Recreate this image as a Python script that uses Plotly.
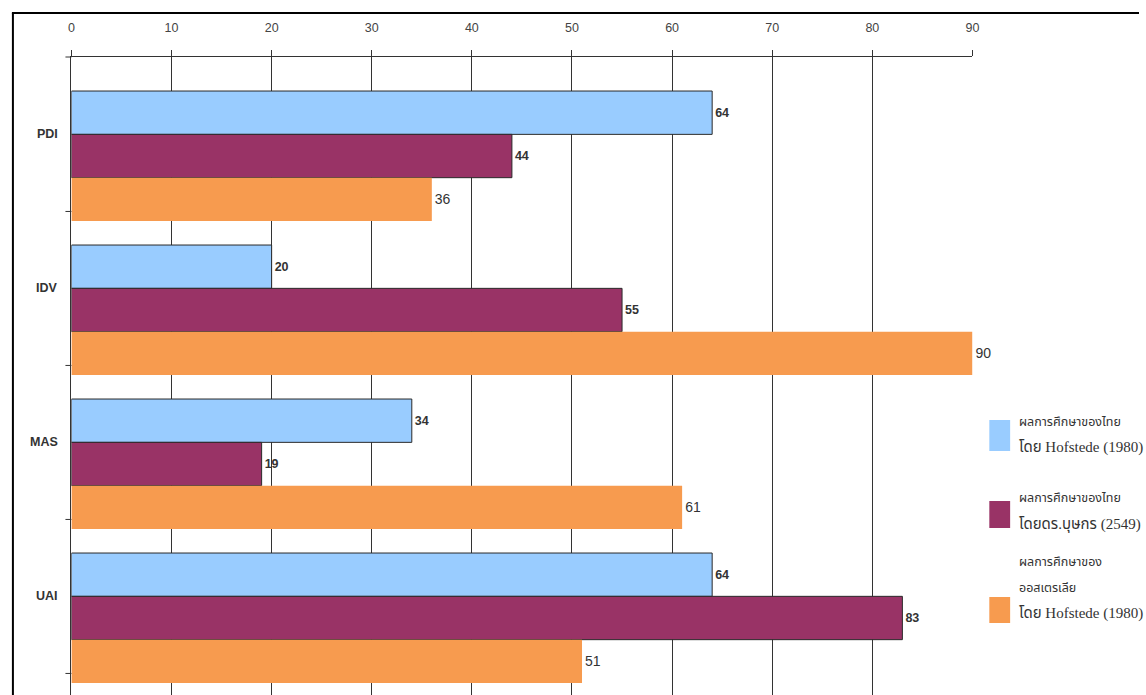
import plotly.graph_objects as go

categories = ["PDI", "IDV", "MAS", "UAI"]
thai_hofstede = [64, 20, 34, 64]
thai_boonyakorn = [44, 55, 19, 83]
australia_hofstede = [36, 90, 61, 51]
x_ticks = list(range(0, 100, 10))
legend_lines = [
    ["ผลการศึกษาของไทย", "โดย Hofstede (1980)"],
    ["ผลการศึกษาของไทย", "โดยดร.บุษกร (2549)"],
    ["ผลการศึกษาของ", "ออสเตรเลีย", "โดย Hofstede (1980)"],
]
colors = ["#99CCFF", "#993366", "#F79B4F"]

W, H = 1146, 695
def xp(px):
    return px / W
def yp(py):
    return 1 - py / H

FONT = "Liberation Sans, Arial, sans-serif"
LEG = "Liberation Serif, Noto Sans Thai, Loma, Garuda, serif"

fig = go.Figure()
series = [thai_hofstede, thai_boonyakorn, australia_hofstede]
for i, vals in enumerate(series):
    is_orange = i == 2
    fig.add_trace(go.Bar(
        y=categories, x=vals, orientation="h",
        name=" ".join(legend_lines[i]),
        marker=dict(color=colors[i],
                    line=dict(color="#2a2a2a" if not is_orange else colors[i],
                              width=1 if not is_orange else 0)),
        text=[str(v) for v in vals], textposition="outside",
        textfont=dict(family=FONT, size=14 if is_orange else 12.5,
                      color="#333", weight=400 if is_orange else 700),
        cliponaxis=False, showlegend=False,
    ))

shapes = []
# frame
shapes.append(dict(type="line", xref="paper", yref="paper", x0=xp(9), x1=1.0,
                   y0=yp(13), y1=yp(13), line=dict(color="black", width=2)))
shapes.append(dict(type="line", xref="paper", yref="paper", x0=xp(10), x1=xp(10),
                   y0=yp(13), y1=0, line=dict(color="black", width=2)))
# axis line extension to the left
shapes.append(dict(type="line", xref="paper", yref="paper", x0=xp(63), x1=xp(69),
                   y0=yp(57), y1=yp(57), line=dict(color="#333", width=1)))
# small y ticks
for i in range(len(categories)):
    shapes.append(dict(type="line", xref="paper", yref="y", x0=xp(63), x1=xp(69),
                       y0=i + 0.36, y1=i + 0.36, line=dict(color="#333", width=1)))

annotations = []
for i, c in enumerate(categories):
    annotations.append(dict(x=xp(57), xref="paper", y=c, yref="y", yshift=22,
                            text=c, showarrow=False, xanchor="right", yanchor="middle",
                            font=dict(family=FONT, size=12.5, color="#333", weight=700)))

# legend
sq = [(420, 451), (501, 528), (597, 623)]
txt_y = [[422, 447], [498, 524], [562, 588, 613]]
for i in range(3):
    shapes.append(dict(type="rect", xref="paper", yref="paper", x0=xp(995), x1=xp(1016),
                       y0=yp(sq[i][1]), y1=yp(sq[i][0]), fillcolor=colors[i],
                       line=dict(width=0)))
    for line, ty in zip(legend_lines[i], txt_y[i]):
        has_latin = "(" in line
        annotations.append(dict(x=xp(1023), xref="paper", y=yp(ty), yref="paper",
                                text=line, showarrow=False, xanchor="left", yanchor="middle",
                                font=dict(family=LEG, size=15 if has_latin else 12.5,
                                          color="#333")))

fig.update_layout(
    width=W, height=H,
    margin=dict(l=0, r=0, t=0, b=0),
    paper_bgcolor="white", plot_bgcolor="white",
    barmode="group", bargap=0.156, bargroupgap=0,
    xaxis=dict(domain=[xp(69), xp(978)], range=[0, 90], side="top",
               tickvals=x_ticks, ticks="outside", ticklen=6, tickcolor="#333",
               showline=True, linecolor="#333", linewidth=1,
               showgrid=True, gridcolor="#333", gridwidth=1, zeroline=False,
               tickfont=dict(family=FONT, size=12.5, color="#444"),
               ticklabelstandoff=13, fixedrange=True),
    yaxis=dict(domain=[0, yp(57)], type="category", categoryarray=categories,
               range=[3.5, -0.643], showticklabels=False, ticks="",
               showline=True, linecolor="#333", linewidth=1, showgrid=False,
               zeroline=False, fixedrange=True),
    shapes=shapes, annotations=annotations,
)

fig.write_html("out.html")
